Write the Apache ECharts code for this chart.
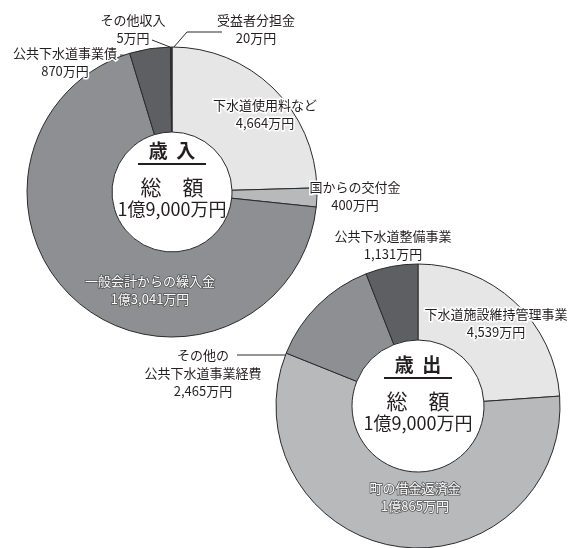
<!DOCTYPE html>
<html><head><meta charset="utf-8">
<script src="https://cdn.jsdelivr.net/npm/echarts@6/dist/echarts.min.js"></script>
<style>html,body{margin:0;padding:0;background:#fff}#c{width:571px;height:548px}</style>
</head><body><div id="c"></div>
<script>
// ---- data ----
const revenueNames = ['下水道使用料など','国からの交付金','一般会計からの繰入金','公共下水道事業債','その他収入','受益者分担金'];
const revenueValues = [4664, 400, 13041, 870, 5, 20];
const revenueValueLabels = ['4,664万円','400万円','1億3,041万円','870万円','5万円','20万円'];
const expenseNames = ['下水道施設維持管理事業','町の借金返済金','その他の\n公共下水道事業経費','公共下水道整備事業'];
const expenseValues = [4539, 10865, 2465, 1131];
const expenseValueLabels = ['4,539万円','1億865万円','2,465万円','1,131万円'];
const revenueTitle = '歳  入';
const expenseTitle = '歳  出';
const totalTitle = '総　額';
const totalLabel = '1億9,000万円';

// ---- layout / style ----
const FONT = '"Noto Sans CJK JP","Noto Sans",sans-serif';
const TOP_C = [172, 192], BOT_C = [418, 406];
const TOP_R = [60, 145], BOT_R = [66, 142];
const revColors = ['#e6e6e7','#b8b9bb','#8e8f92','#5e5f62','#4a4a4c','#4a4a4c'];
const expColors = ['#e6e6e7','#b8b9bb','#8e8f92','#5e5f62'];
const revLabelPos = [[265,114],[355,196],[150,290],[65,62],[133,29],[256,29]];
const revLabelLines = [null,null,null,[[120,55],[155,57]],[[152,40],[170,47]],[[173,48],[187,32],[222,32]]];
const revOutlined = [false,false,true,false,false,false];
const expLabelPos = [[496,323],[415,497],[203,373],[393,245]];
const expLabelLines = [null,null,[[237,355],[307,355]],null];
const expOutlined = [false,true,false,false];

function labelStyle(outlined, hasLine){
  const base = {show:true, position: hasLine ? 'outside' : 'inside', fontFamily: FONT, fontSize: 13, lineHeight: 18, align:'center'};
  if (outlined) return Object.assign(base, {color:'#ffffff', textBorderColor:'#555555', textBorderWidth:1.5});
  return Object.assign(base, {color:'#231f20', textBorderColor:'#ffffff', textBorderWidth:3});
}

function makeSeries(center, radius, names, values, valueLabels, colors, pos, lines, outlined){
  return {
    type:'pie', center: center, radius: radius, startAngle:90, clockwise:true,
    avoidLabelOverlap:false, silent:true, animation:false,
    itemStyle:{borderColor:'#2b2b2b', borderWidth:1},
    labelLine:{show:true, length:5, length2:5, lineStyle:{color:'#2b2b2b', width:1}},
    labelLayout: function(p){
      const i = p.dataIndex;
      const o = {x: pos[i][0], y: pos[i][1], align:'center', verticalAlign:'middle'};
      if (lines[i]) o.labelLinePoints = lines[i];
      return o;
    },
    data: names.map((n,i)=>({
      name:n, value:values[i], itemStyle:{color:colors[i]},
      label: Object.assign(labelStyle(outlined[i], !!lines[i]), {formatter: n + '\n' + valueLabels[i]}),
      labelLine: {show: !!lines[i]}
    }))
  };
}

function centerGraphics(c, title){
  return [
    {type:'text', x:c[0], y:c[1]-41, style:{text:title, font:'bold 19px '+FONT, fill:'#231f20', align:'center', verticalAlign:'middle'}},
    {type:'line', shape:{x1:c[0]-34, y1:c[1]-28, x2:c[0]+34, y2:c[1]-28}, style:{stroke:'#231f20', lineWidth:2}},
    {type:'text', x:c[0], y:c[1]-5, style:{text:totalTitle, font:'21px '+FONT, fill:'#231f20', align:'center', verticalAlign:'middle'}},
    {type:'text', x:c[0], y:c[1]+17, style:{text:totalLabel, font:'18px '+FONT, fill:'#231f20', align:'center', verticalAlign:'middle'}}
  ];
}

const chart = echarts.init(document.getElementById('c'), null, {renderer:'canvas'});
chart.setOption({
  backgroundColor:'#ffffff',
  animation:false,
  series:[
    makeSeries(TOP_C, TOP_R, revenueNames, revenueValues, revenueValueLabels, revColors, revLabelPos, revLabelLines, revOutlined),
    makeSeries(BOT_C, BOT_R, expenseNames, expenseValues, expenseValueLabels, expColors, expLabelPos, expLabelLines, expOutlined)
  ],
  graphic: centerGraphics(TOP_C, revenueTitle).concat(centerGraphics(BOT_C, expenseTitle))
});
</script></body></html>
